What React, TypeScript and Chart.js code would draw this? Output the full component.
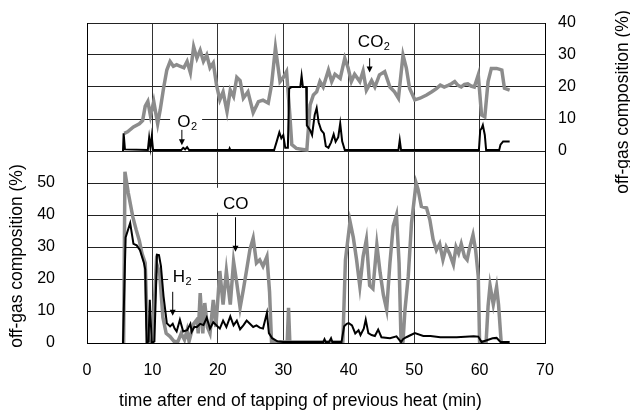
import { useEffect, useRef } from 'react';
import { Chart, registerables } from 'chart.js';

Chart.register(...registerables);

// ---- data (time in min, value in %) ----
const xTickValues = [0, 10, 20, 30, 40, 50, 60, 70];
const leftTickLabels = [0, 10, 20, 30, 40, 50];
const rightTickLabels = [0, 10, 20, 30, 40];

const co2Time = [5.7, 6.2, 7.1, 8.0, 8.5, 8.9, 9.3, 9.7, 10.2, 10.8, 11.2, 11.7, 12.2, 12.7, 13.2, 13.7, 14.2, 14.8, 15.3, 15.8, 16.3, 16.8, 17.3, 17.8, 18.3, 18.8, 19.3, 19.8, 20.3, 20.8, 21.4, 21.9, 22.4, 22.9, 23.4, 23.9, 24.6, 25.4, 26.2, 26.9, 27.7, 28.2, 28.8, 29.5, 30.0, 30.5, 31.0, 31.3, 32.0, 33.0, 33.6, 34.1, 34.6, 35.1, 35.6, 36.1, 36.9, 37.4, 37.9, 38.7, 39.4, 39.9, 40.4, 40.9, 41.7, 42.2, 42.7, 43.5, 44.0, 44.7, 45.5, 46.3, 47.0, 47.6, 48.3, 48.8, 49.3, 50.1, 50.9, 51.9, 52.7, 53.4, 54.0, 54.6, 55.2, 55.7, 56.2, 56.7, 57.2, 57.7, 58.2, 58.7, 59.2, 59.8, 60.3, 60.8, 61.3, 61.8, 62.6, 63.1, 63.4, 63.8, 64.6];
const co2Value = [5.5, 6, 7.5, 8.5, 9.5, 14, 15.5, 11, 15.5, 8.5, 13, 19.6, 25.3, 28, 26.5, 27, 26.5, 26, 28, 24.5, 32.6, 29, 31.5, 28, 30, 26, 27.5, 20.6, 16, 18.5, 12.3, 19, 17, 23, 22, 16.5, 18.5, 12, 15.4, 15.9, 15, 20.6, 32.3, 21.7, 23, 24.8, 11.3, 2, 0.8, 0.5, 0.3, 14.4, 17.5, 18.5, 21.7, 20, 25.3, 21.7, 24, 22.7, 29, 26, 21.7, 24, 21.7, 25, 19, 22, 20, 23.8, 24.8, 20, 18.5, 16.5, 30, 26, 19.6, 16, 16.5, 17.5, 18.5, 19.5, 20.6, 20, 20.5, 21, 21.7, 20.5, 20, 20.8, 21, 20.3, 20, 23.8, 11.3, 10.7, 21.7, 25.8, 25.8, 25.5, 25.3, 19.6, 19];

const o2Time = [5.5, 5.6, 5.8, 9.3, 9.5, 9.7, 9.9, 10.1, 14.4, 14.7, 15.0, 15.3, 15.6, 21.7, 21.8, 21.9, 28.6, 29.0, 29.4, 29.7, 30.0, 30.3, 30.7, 30.9, 31.3, 32.6, 32.8, 33.0, 33.5, 33.6, 34.1, 34.4, 34.8, 35.1, 35.4, 35.8, 36.2, 36.5, 36.9, 37.3, 37.7, 38.0, 38.4, 38.7, 39.0, 39.4, 47.6, 47.8, 48.0, 59.9, 60.1, 60.3, 60.5, 60.8, 61.0, 63.0, 63.2, 63.6, 64.6];
const o2Value = [0, 5.5, 0.5, 0.3, 4.2, 1, 4.5, 0.3, 0.3, 1, 0.5, 1.2, 0.3, 0.3, 0.8, 0.3, 0.3, 3, 5.8, 4, 5, 1, 1, 19.5, 20, 20, 23.5, 20, 20, 8, 6.5, 5, 11.3, 13.4, 9, 6.5, 5.5, 1.5, 1, 2.7, 5.2, 2.9, 4.3, 8.6, 3, 0.3, 0.3, 3.4, 0.3, 0.3, 6.5, 7, 8.1, 5, 0.3, 0.3, 2, 3, 3];

const coTime = [5.6, 5.8, 6.3, 7.0, 7.5, 8.0, 8.4, 8.9, 9.2, 9.5, 10.0, 10.6, 11.1, 11.6, 12.1, 12.7, 13.3, 13.9, 14.4, 14.9, 15.3, 15.6, 16.3, 16.8, 17.0, 17.3, 17.7, 18.0, 18.4, 18.8, 19.3, 19.7, 20.3, 20.8, 21.3, 21.9, 22.4, 22.9, 23.4, 23.9, 24.4, 24.9, 25.4, 25.9, 26.4, 26.9, 27.5, 27.9, 28.2, 30.6, 30.8, 31.0, 39.1, 39.5, 40.2, 40.7, 41.2, 41.7, 42.2, 42.7, 43.2, 43.7, 44.3, 44.8, 45.3, 45.8, 46.3, 46.8, 47.3, 47.7, 48.0, 48.3, 48.6, 49.1, 49.6, 50.3, 50.6, 51.1, 51.9, 52.4, 52.9, 53.4, 53.9, 54.4, 54.9, 55.4, 56.0, 56.4, 56.8, 57.2, 57.7, 58.1, 58.4, 59.0, 59.4, 59.8, 60.0, 61.0, 61.3, 61.6, 62.1, 62.6, 62.9, 63.3];
const coValue = [0, 53.5, 47, 39.4, 35.5, 32, 28, 25, 5, 0, 0.5, 25, 22, 8, 3, 2, 0.5, 0.5, 3, 1, 4, 0.5, 6, 7.3, 3, 15.6, 3, 12.5, 5, 3, 13.5, 5, 22.5, 12, 22.5, 12, 25.5, 18.6, 11, 16.7, 22.9, 29.2, 32.8, 25, 26, 24, 27, 16, 0.5, 0.3, 11, 0.3, 0.3, 26, 38, 33, 26, 17.7, 27, 32.3, 18, 17, 30.7, 22, 15, 10.4, 25, 36.5, 40, 25, 0.3, 0.5, 10.4, 20.8, 37.5, 50, 48, 42.7, 42.2, 38.5, 32.3, 29, 31, 26, 30, 28, 24.5, 30, 28, 31, 27, 26, 29, 33.8, 29, 20.8, 0.3, 0.3, 11.5, 18, 12, 17.5, 12, 0.3];

const h2Time = [5.5, 5.9, 6.6, 7.1, 7.6, 8.1, 8.7, 8.9, 9.1, 9.4, 9.6, 9.9, 10.3, 10.7, 11.0, 11.3, 11.7, 12.2, 12.7, 13.1, 13.4, 13.7, 14.2, 14.7, 15.3, 15.8, 16.0, 16.4, 16.8, 17.3, 17.8, 18.3, 18.8, 19.3, 19.8, 20.3, 20.8, 21.3, 21.9, 22.4, 22.9, 23.4, 23.9, 24.4, 24.9, 25.4, 25.9, 26.4, 26.9, 27.5, 27.8, 28.3, 29.1, 30.0, 36.1, 36.3, 36.5, 37.0, 37.3, 37.5, 38.9, 39.3, 39.7, 40.0, 40.5, 41.0, 41.5, 41.8, 42.3, 42.6, 43.0, 43.5, 44.0, 44.5, 45.0, 46.3, 47.3, 48.0, 48.3, 48.8, 49.5, 50.1, 51.4, 52.5, 54.0, 56.5, 59.1, 59.8, 60.3, 61.0, 62.0, 62.6, 63.2, 64.6];
const h2Value = [0, 33, 37.5, 31, 30.5, 29, 25, 23, 0, 0.5, 13.5, 0, 0.5, 27.6, 27.5, 24, 14.6, 6.2, 5.2, 6, 4.5, 3.6, 7.3, 3.6, 4, 6, 3.5, 5, 5, 6, 5.6, 7.9, 4.5, 6.5, 5.5, 4.5, 7, 5, 8.3, 5.5, 7, 4.3, 5.5, 7, 6, 5, 5.5, 4.8, 4.5, 9.4, 3.1, 1.5, 0.5, 0.3, 0.3, 1.2, 0.3, 0.3, 1.5, 0.3, 0.3, 5.2, 6, 6.2, 5.5, 3, 4, 2.5, 4.5, 7.3, 3.1, 2.5, 2.2, 4.2, 1.8, 1.5, 2.1, 0.3, 1.2, 1.8, 2.5, 3.1, 2.2, 2.2, 1.8, 1.8, 2.1, 2, 0.3, 0.8, 1.5, 1.6, 0.3, 0.3];

const GREY = '#8c8c8c';
const FONT = '"Liberation Sans", Arial, sans-serif';
const TITLE = 'off-gas composition (%)';
const X_TITLE = 'time after end of tapping of previous heat (min)';

const pts = (t: number[], v: number[]) => t.map((x, i) => ({ x, y: v[i] }));

const drawLabel = (ctx: CanvasRenderingContext2D, main: string, sub: string, left: number, baseline: number, bg: number[] | null) => {
  if (bg) {
    ctx.fillStyle = '#fff';
    ctx.fillRect(bg[0], bg[1], bg[2], bg[3]);
  }
  ctx.fillStyle = '#000';
  ctx.textAlign = 'left';
  ctx.textBaseline = 'alphabetic';
  ctx.font = `17px ${FONT}`;
  ctx.fillText(main, left, baseline);
  const w = ctx.measureText(main).width;
  ctx.font = `11px ${FONT}`;
  ctx.fillText(sub, left + w + 0.5, baseline + 3);
};

const drawArrow = (ctx: CanvasRenderingContext2D, x: number, y1: number, y2: number) => {
  ctx.strokeStyle = '#000';
  ctx.lineWidth = 1;
  ctx.beginPath();
  ctx.moveTo(x, y1);
  ctx.lineTo(x, y2 - 4);
  ctx.stroke();
  ctx.fillStyle = '#000';
  ctx.beginPath();
  ctx.moveTo(x - 3, y2 - 6);
  ctx.lineTo(x + 3, y2 - 6);
  ctx.lineTo(x, y2);
  ctx.closePath();
  ctx.fill();
};

const drawText = (ctx: CanvasRenderingContext2D, text: string, cx: number, cy: number, rotate: boolean) => {
  ctx.save();
  ctx.fillStyle = '#000';
  ctx.font = `17.5px ${FONT}`;
  ctx.textAlign = 'center';
  ctx.textBaseline = 'middle';
  ctx.translate(cx, cy);
  if (rotate) ctx.rotate(-Math.PI / 2);
  ctx.fillText(text, 0, 0);
  ctx.restore();
};

const annotations = {
  id: 'annotations',
  afterDatasetsDraw(chart: any) {
    const ctx: CanvasRenderingContext2D = chart.ctx;
    const xs = chart.scales.x;
    const yR = chart.scales.yR;
    const yL = chart.scales.yL;
    ctx.save();
    // CO2
    drawLabel(ctx, 'CO', '2', xs.getPixelForValue(41.4), yR.getPixelForValue(32.5), null);
    drawArrow(ctx, xs.getPixelForValue(43.2), yR.getPixelForValue(29), yR.getPixelForValue(24.5));
    // O2
    drawLabel(ctx, 'O', '2', xs.getPixelForValue(13.8), yR.getPixelForValue(7.5), [xs.getPixelForValue(12.7), yR.getPixelForValue(12.3), 32, 18]);
    drawArrow(ctx, xs.getPixelForValue(14.5), yR.getPixelForValue(6.6), yR.getPixelForValue(1.8));
    // CO
    drawLabel(ctx, 'CO', '', xs.getPixelForValue(20.8), yL.getPixelForValue(41.8), [xs.getPixelForValue(20) - 1, yL.getPixelForValue(48.5), 35, 25]);
    drawArrow(ctx, xs.getPixelForValue(22.7), yL.getPixelForValue(39.3), yL.getPixelForValue(28.5));
    // H2
    drawLabel(ctx, 'H', '2', xs.getPixelForValue(13.1), yL.getPixelForValue(19.2), [xs.getPixelForValue(12.4), yL.getPixelForValue(23), 30, 19]);
    drawArrow(ctx, xs.getPixelForValue(13.1), yL.getPixelForValue(16), yL.getPixelForValue(8.5));
    ctx.restore();
  },
  afterDraw(chart: any) {
    const ctx: CanvasRenderingContext2D = chart.ctx;
    drawText(ctx, X_TITLE, 300.5, 401, false);
    drawText(ctx, TITLE, 17, 256, true);
    drawText(ctx, TITLE, 623, 102, true);
  },
};

export default function App() {
  const ref = useRef<HTMLCanvasElement>(null);
  useEffect(() => {
    document.body.style.margin = '0';
    const canvas = ref.current!;
    const chart = new Chart(canvas, {
      type: 'line',
      data: {
        datasets: [
          { label: 'O2', data: pts(o2Time, o2Value), yAxisID: 'yR', borderColor: '#000', borderWidth: 2, pointRadius: 0, tension: 0, order: 0 },
          { label: 'H2', data: pts(h2Time, h2Value), yAxisID: 'yL', borderColor: '#000', borderWidth: 2, pointRadius: 0, tension: 0, order: 0 },
          { label: 'CO2', data: pts(co2Time, co2Value), yAxisID: 'yR', borderColor: GREY, borderWidth: 3.5, pointRadius: 0, tension: 0, order: 1 },
          { label: 'CO', data: pts(coTime, coValue), yAxisID: 'yL', borderColor: GREY, borderWidth: 3.5, pointRadius: 0, tension: 0, order: 1 },
        ],
      },
      options: {
        responsive: false,
        animation: false,
        layout: { padding: { top: 23, left: 0, right: 0, bottom: 0 } },
        plugins: { legend: { display: false }, tooltip: { enabled: false } },
        scales: {
          x: {
            type: 'linear',
            min: 0,
            max: 70,
            afterBuildTicks: (s: any) => { s.ticks = xTickValues.map((v) => ({ value: v })); },
            afterFit: (s: any) => { s.height = 69; s.paddingLeft = 0; s.paddingRight = 0; },
            grid: { color: '#333', lineWidth: 1, drawTicks: false },
            border: { color: '#000', width: 1 },
            ticks: { color: '#000', padding: 18, font: { family: FONT, size: 16 }, maxRotation: 0 },
          },
          yL: {
            type: 'linear',
            position: 'left',
            min: 0,
            max: 100,
            afterBuildTicks: (s: any) => { s.ticks = Array.from({ length: 11 }, (_, i) => ({ value: i * 10 })); },
            afterFit: (s: any) => { s.width = 87; s.paddingTop = 0; s.paddingBottom = 0; },
            grid: { color: '#222', lineWidth: 1, drawTicks: false },
            border: { color: '#000', width: 1 },
            ticks: {
              color: '#000', padding: 32, font: { family: FONT, size: 16 },
              callback: (v: any) => (leftTickLabels.includes(v) ? String(v) : ''),
            },
          },
          yR: {
            type: 'linear',
            position: 'right',
            min: -60,
            max: 40,
            afterBuildTicks: (s: any) => { s.ticks = Array.from({ length: 11 }, (_, i) => ({ value: -60 + i * 10 })); },
            afterFit: (s: any) => { s.width = 85; s.paddingTop = 0; s.paddingBottom = 0; },
            grid: { display: false, drawTicks: false },
            border: { color: '#000', width: 1 },
            ticks: {
              color: '#000', padding: 13, font: { family: FONT, size: 16 },
              callback: (v: any) => (rightTickLabels.includes(v) ? String(v) : ''),
            },
          },
        },
      },
      plugins: [annotations],
    });
    return () => chart.destroy();
  }, []);
  return (
    <div style={{ position: 'absolute', left: 0, top: 0, width: 630, height: 412, background: '#fff' }}>
      <canvas ref={ref} width={630} height={412} />
    </div>
  );
}
